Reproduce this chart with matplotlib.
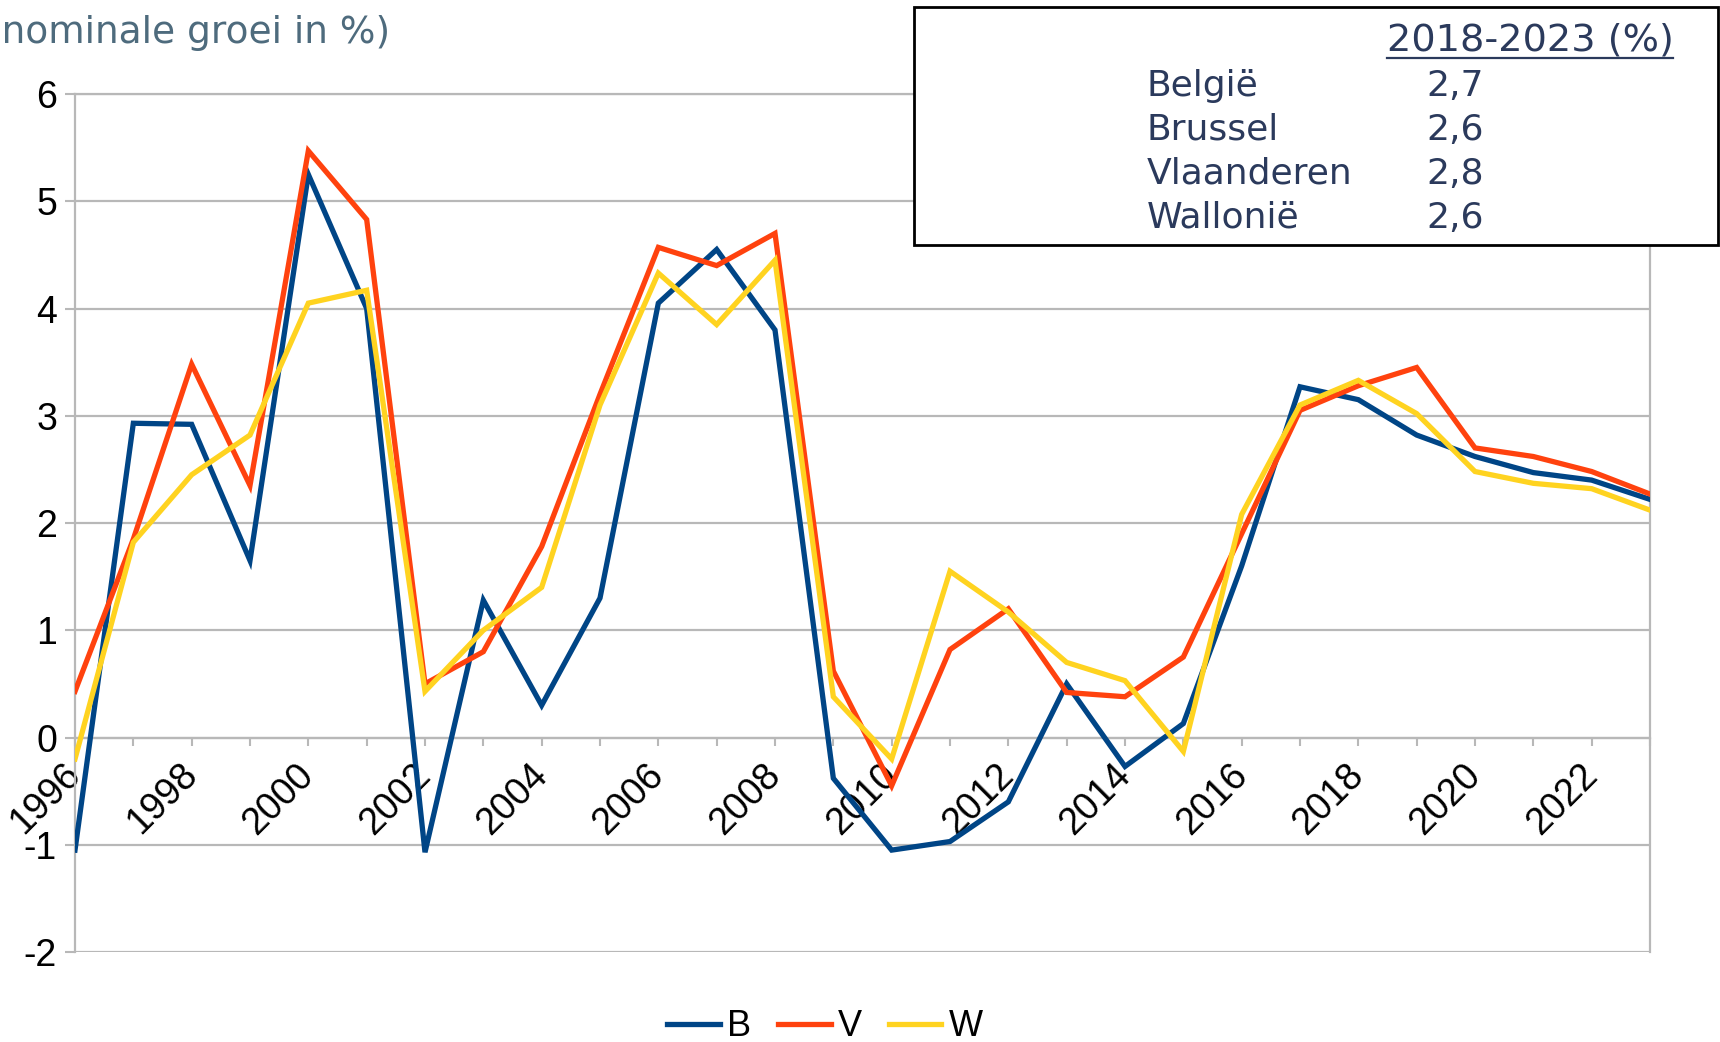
import matplotlib
matplotlib.use("Agg")
import matplotlib.pyplot as plt
from matplotlib.patches import Rectangle
from matplotlib.lines import Line2D

plt.rcParams["axes.unicode_minus"] = False

years = list(range(1996, 2024))
B = [-1.05, 2.93, 2.92, 1.65, 5.25, 4.00, -1.07, 1.28, 0.30, 1.30,
     4.05, 4.55, 3.80, -0.38, -1.05, -0.97, -0.60, 0.50, -0.27, 0.13,
     1.60, 3.27, 3.15, 2.82, 2.62, 2.47, 2.40, 2.22]
V = [0.43, 1.85, 3.48, 2.35, 5.47, 4.83, 0.50, 0.80, 1.78, 3.20,
     4.57, 4.40, 4.70, 0.62, -0.45, 0.82, 1.20, 0.42, 0.38, 0.75,
     1.90, 3.05, 3.28, 3.45, 2.70, 2.62, 2.48, 2.27]
W = [-0.20, 1.82, 2.45, 2.82, 4.05, 4.17, 0.43, 1.00, 1.40, 3.10,
     4.33, 3.85, 4.45, 0.38, -0.20, 1.55, 1.17, 0.70, 0.53, -0.13,
     2.08, 3.10, 3.33, 3.02, 2.48, 2.37, 2.32, 2.12]
series_names = ["B", "V", "W"]
series_colors = ["#004586", "#ff420e", "#ffd320"]
tick_years = list(range(1996, 2023, 2))

box_header = "2018-2023 (%)"
box_regions = ["België", "Brussel", "Vlaanderen", "Wallonië"]
box_values = ["2,7", "2,6", "2,8", "2,6"]
subtitle = "(nominale groei in %)"

W_PX, H_PX = 1720, 1042
fig = plt.figure(figsize=(W_PX / 100, H_PX / 100), dpi=100)
fig.patch.set_facecolor("white")

def fx(px):
    return px / W_PX

def fy(py):
    return 1 - py / H_PX

ax = fig.add_axes([fx(75), fy(952), fx(1650) - fx(75), fy(94) - fy(952)])

grid_c = "#b8b8b8"
ax.spines["bottom"].set_position(("data", 0))
for s in ["bottom", "left", "right", "top"]:
    ax.spines[s].set_color(grid_c)
    ax.spines[s].set_linewidth(1.6)

for name, vals, col in zip(series_names, [B, V, W], series_colors):
    ax.plot(years, vals, color=col, lw=3.8, label=name, solid_joinstyle="miter", zorder=3)

ax.set_xlim(1996, 2023)
ax.set_ylim(-2, 6)
ax.set_yticks(range(-2, 7))
ax.yaxis.grid(True, color=grid_c, lw=1.6, zorder=0)
ax.set_axisbelow(True)

ax.set_xticks(years, minor=True)
ax.set_xticks(tick_years)
ax.tick_params(axis="x", which="both", direction="out", length=6, width=1.5, color=grid_c,
               labelsize=27, pad=17, labelrotation=45, labelfontfamily="Liberation Sans")
ax.tick_params(axis="x", which="minor", labelbottom=False)
ax.tick_params(axis="y", direction="out", length=7, width=1.5, color=grid_c, labelsize=27,
               pad=6, labelfontfamily="Liberation Sans")
ax.set_xticklabels([str(y) for y in tick_years], rotation=45, ha="right", va="center",
                   rotation_mode="anchor")

# subtitle
fig.text(fx(390), fy(33), subtitle, ha="right", va="center", fontsize=27,
         color="#4e6b7d", family="DejaVu Sans")

# legend
leg = fig.legend(loc="center", bbox_to_anchor=(fx(825), fy(1027)), ncol=3, frameon=False,
                 prop={"family": "Liberation Sans", "size": 26},
                 handlelength=1.45, handletextpad=0.2, columnspacing=0.75)
for h in leg.get_lines():
    h.set_linewidth(3.8)

# info box
rect = Rectangle((fx(914), fy(245)), fx(1718) - fx(914), fy(7) - fy(245),
                 transform=fig.transFigure, facecolor="white", edgecolor="black",
                 lw=2, zorder=10)
fig.add_artist(rect)
txt_c = "#2b3a5c"
hdr = fig.text(fx(1530), fy(41), box_header, ha="center", va="center", fontsize=27.5,
               color=txt_c, family="DejaVu Sans", zorder=11)
row_y = [86, 130, 174, 218]
for yy, reg, val in zip(row_y, box_regions, box_values):
    fig.text(fx(1147), fy(yy), reg, ha="left", va="center", fontsize=26,
             color=txt_c, family="DejaVu Sans", zorder=11)
    fig.text(fx(1426), fy(yy), val, ha="left", va="center", fontsize=26,
             color=txt_c, family="DejaVu Sans", zorder=11)

renderer = fig.canvas.get_renderer()
bb = hdr.get_window_extent(renderer=renderer).transformed(fig.transFigure.inverted())
fig.add_artist(Line2D([bb.x0, bb.x1], [fy(58), fy(58)], transform=fig.transFigure,
                      color=txt_c, lw=1.6, zorder=11))

fig.savefig("out.png", dpi=100)
